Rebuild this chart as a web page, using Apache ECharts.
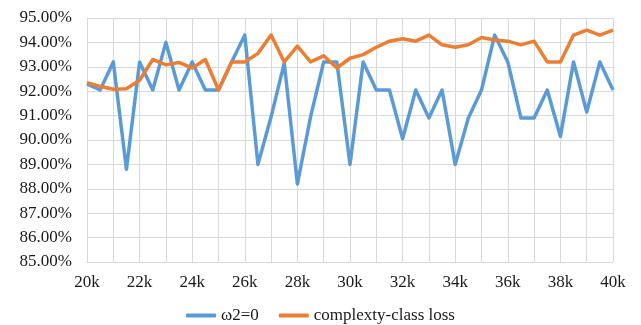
<!DOCTYPE html>
<html>
<head>
<meta charset="utf-8">
<script src="https://cdn.jsdelivr.net/npm/echarts@6/dist/echarts.min.js"></script>
<style>
  html, body { margin: 0; padding: 0; background: #fff; }
  #chart { width: 641px; height: 325px; }
</style>
</head>
<body>
<div id="chart"></div>
<script>
// Training steps, every 0.5k from 20k to 40k
const steps = [
  '20k','20.5k','21k','21.5k','22k','22.5k','23k','23.5k','24k','24.5k',
  '25k','25.5k','26k','26.5k','27k','27.5k','28k','28.5k','29k','29.5k',
  '30k','30.5k','31k','31.5k','32k','32.5k','33k','33.5k','34k','34.5k',
  '35k','35.5k','36k','36.5k','37k','37.5k','38k','38.5k','39k','39.5k','40k'
];

// Accuracy (%) without the complexity-class term
const omega2Zero = [
  92.3, 92.05, 93.2, 88.8, 93.2, 92.05, 94.0, 92.05, 93.2, 92.05,
  92.05, 93.2, 94.3, 89.0, 90.95, 93.15, 88.2, 90.95, 93.2, 93.2,
  89.0, 93.2, 92.05, 92.05, 90.05, 92.05, 90.9, 92.05, 89.0, 90.9,
  92.05, 94.3, 93.2, 90.9, 90.9, 92.05, 90.15, 93.2, 91.15, 93.2, 92.05
];

// Accuracy (%) with the complexity-class loss
const complexityLoss = [
  92.35, 92.2, 92.08, 92.1, 92.45, 93.3, 93.08, 93.18, 92.95, 93.3,
  92.05, 93.2, 93.2, 93.55, 94.3, 93.2, 93.85, 93.2, 93.45, 92.95,
  93.35, 93.5, 93.8, 94.05, 94.15, 94.05, 94.3, 93.9, 93.8, 93.9,
  94.2, 94.1, 94.05, 93.9, 94.05, 93.2, 93.2, 94.3, 94.5, 94.3, 94.5
];

const seriesNames = ['ω2=0', 'complexty-class loss'];

const FONT = 'Liberation Serif';
const gridColor = '#D9D9D9';

const chart = echarts.init(document.getElementById('chart'), null, { renderer: 'canvas' });
chart.setOption({
  animation: false,
  backgroundColor: '#fff',
  textStyle: { fontFamily: FONT },
  grid: { left: 87, right: 28, top: 18, bottom: 63, containLabel: false },
  legend: {
    top: 307,
    left: 'center',
    padding: 0,
    itemWidth: 30,
    itemHeight: 4,
    itemGap: 20,
    icon: 'roundRect',
    textStyle: { fontFamily: FONT, fontSize: 17, color: '#1a1a1a' },
    data: seriesNames
  },
  xAxis: {
    type: 'category',
    data: steps,
    boundaryGap: false,
    axisLine: { show: true, lineStyle: { color: gridColor, width: 1 } },
    axisTick: { show: false },
    axisLabel: {
      interval: 3,
      margin: 12,
      fontFamily: FONT,
      fontSize: 17,
      color: '#1a1a1a'
    },
    splitLine: { show: true, interval: 1, lineStyle: { color: gridColor, width: 1 } }
  },
  yAxis: {
    type: 'value',
    min: 85,
    max: 95,
    interval: 1,
    axisLine: { show: false },
    axisTick: { show: false },
    axisLabel: {
      margin: 15,
      fontFamily: FONT,
      fontSize: 17,
      color: '#1a1a1a',
      formatter: v => v.toFixed(2) + '%'
    },
    splitLine: { show: true, lineStyle: { color: gridColor, width: 1 } }
  },
  series: [
    {
      name: seriesNames[0],
      type: 'line',
      data: omega2Zero,
      showSymbol: false,
      symbol: 'none',
      itemStyle: { color: '#5B9BD5' },
      lineStyle: { color: '#5B9BD5', width: 3.5, join: 'round' }
    },
    {
      name: seriesNames[1],
      type: 'line',
      data: complexityLoss,
      showSymbol: false,
      symbol: 'none',
      itemStyle: { color: '#ED7D31' },
      lineStyle: { color: '#ED7D31', width: 3.5, join: 'round' }
    }
  ]
});
</script>
</body>
</html>
